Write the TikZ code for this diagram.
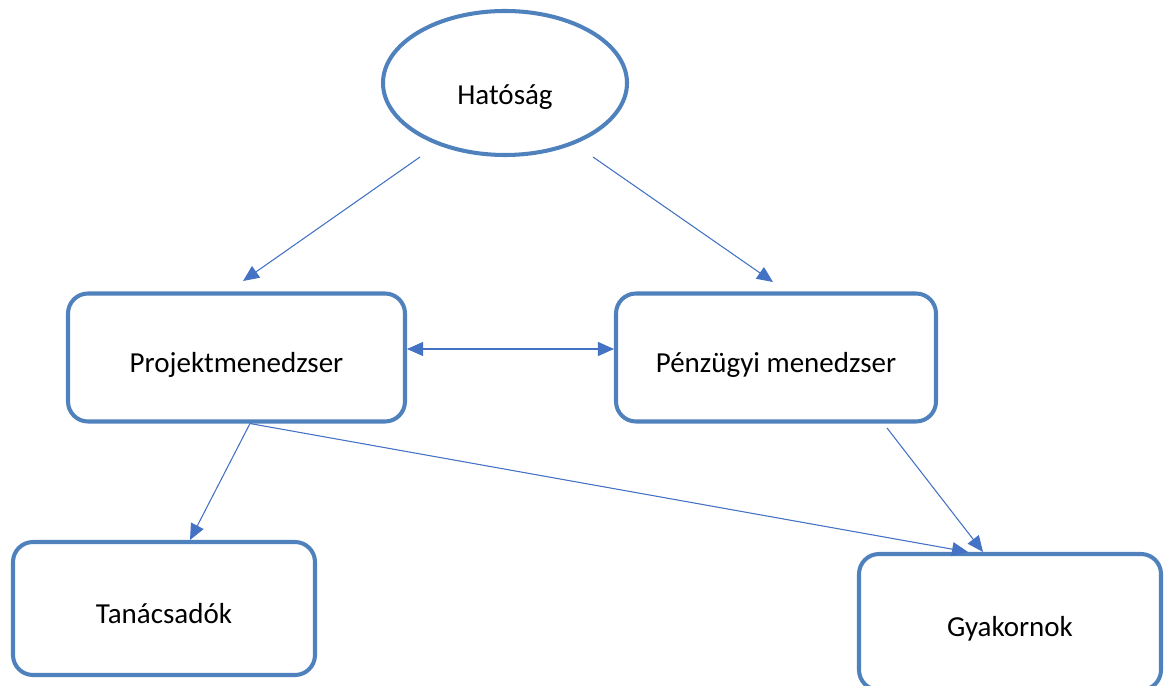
\documentclass[tikz,border=0pt]{standalone}
\usepackage{fontspec}
\setmainfont{Carlito}
\usepackage{tikz}
\usetikzlibrary{shapes.geometric,arrows.meta}
\definecolor{boxblue}{RGB}{79,129,189}
\definecolor{arcblue}{RGB}{68,114,196}

\begin{document}
\begin{tikzpicture}[font=\fontsize{16.5}{20}\selectfont, xscale=1, yscale=1]
%% the whole figure is in cm, 1 px of the drawing = 0.02 cm
%% text height moves the labels a little below the middle of the shapes
\tikzstyle{arc}=[-{Triangle[length=3.2mm,width=2.8mm]},draw=arcblue,fill=arcblue,line width=0.6pt]
\tikzstyle{doublearc}=[arc,{Triangle[length=3.2mm,width=2.8mm]}-{Triangle[length=3.2mm,width=2.8mm]}]
\tikzstyle{every role}=[draw=boxblue,line width=2.3pt,fill=white,align=center,text depth=0pt]
\tikzstyle{role}=[every role,rectangle,rounded corners=4mm,minimum height=2.56cm,text height=5.8mm]
\tikzstyle{authority}=[every role,ellipse,minimum width=4.88cm,minimum height=2.88cm,text height=8.8mm]
\useasboundingbox (0,0) rectangle (23.36,-13.72);
%% TikZ-figure elements %%
\node[authority] at (10.10,-1.66) (Hatosag) {Hatóság};
%% second level
\node[role, minimum width=6.74cm] at (4.73,-7.15) (Projekt) {Projektmenedzser};
\node[role, minimum width=6.40cm] at (15.52,-7.15) (Penzugy) {Pénzügyi menedzser};
%% third level
\node[role, minimum width=6.04cm, minimum height=2.66cm] at (3.28,-12.17) (Tanacsado) {Tanácsadók};
\node[role, minimum width=6.04cm, minimum height=2.72cm] at (20.20,-12.44) (Gyakornok) {Gyakornok};
%% free ends of the arcs from Hatosag
\coordinate (HatosagL) at (8.40,-3.14);
\coordinate (HatosagR) at (11.86,-3.14);
\coordinate (ProjektIn) at (4.86,-5.62);
\coordinate (PenzugyIn) at (15.46,-5.64);
\coordinate (PenzugyOut) at (17.74,-8.56);
%% arcs
\draw[arc] (HatosagL) to[bend right=0] (ProjektIn);
\draw[arc] (HatosagR) to[bend right=0] (PenzugyIn);
\draw[doublearc] ([yshift=1.7mm]Projekt.east) to[bend right=0] ([yshift=1.7mm]Penzugy.west);
\draw[arc] ([xshift=2.7mm]Projekt.south) to[bend right=0] ([xshift=5.2mm]Tanacsado.north);
\draw[arc] ([xshift=2.7mm]Projekt.south) to[bend right=0] ([xshift=-8.4mm]Gyakornok.north);
\draw[arc] (PenzugyOut) to[bend right=0] ([xshift=-5.4mm]Gyakornok.north);
\end{tikzpicture}
\end{document}
